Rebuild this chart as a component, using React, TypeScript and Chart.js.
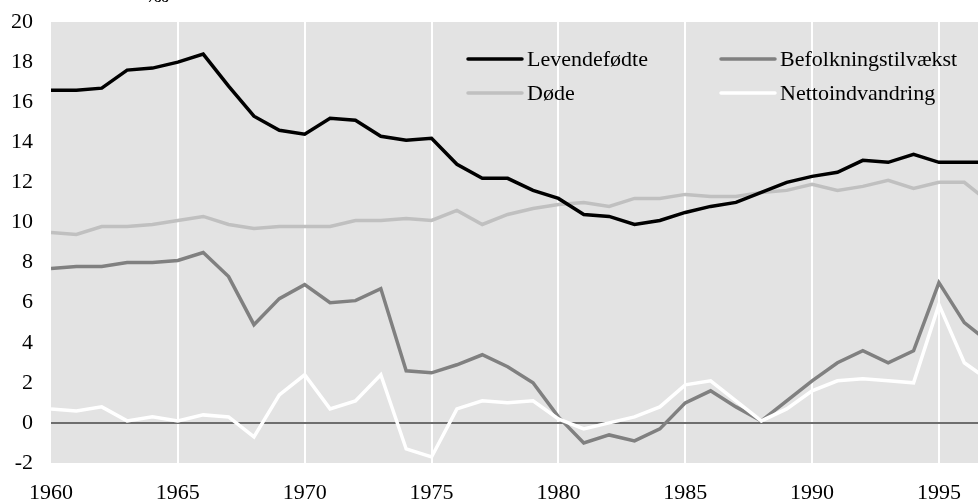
import React, { useEffect, useRef } from "react";
import { Chart, registerables } from "chart.js";

Chart.register(...registerables);

const years = [
  1960, 1961, 1962, 1963, 1964, 1965, 1966, 1967, 1968, 1969,
  1970, 1971, 1972, 1973, 1974, 1975, 1976, 1977, 1978, 1979,
  1980, 1981, 1982, 1983, 1984, 1985, 1986, 1987, 1988, 1989,
  1990, 1991, 1992, 1993, 1994, 1995, 1996, 1997,
];

const levendefodte = [
  16.6, 16.6, 16.7, 17.6, 17.7, 18.0, 18.4, 16.8, 15.3, 14.6,
  14.4, 15.2, 15.1, 14.3, 14.1, 14.2, 12.9, 12.2, 12.2, 11.6,
  11.2, 10.4, 10.3, 9.9, 10.1, 10.5, 10.8, 11.0, 11.5, 12.0,
  12.3, 12.5, 13.1, 13.0, 13.4, 13.0, 13.0, 13.0,
];

const dode = [
  9.5, 9.4, 9.8, 9.8, 9.9, 10.1, 10.3, 9.9, 9.7, 9.8,
  9.8, 9.8, 10.1, 10.1, 10.2, 10.1, 10.6, 9.9, 10.4, 10.7,
  10.9, 11.0, 10.8, 11.2, 11.2, 11.4, 11.3, 11.3, 11.5, 11.6,
  11.9, 11.6, 11.8, 12.1, 11.7, 12.0, 12.0, 11.0,
];

const befolkningstilvaekst = [
  7.7, 7.8, 7.8, 8.0, 8.0, 8.1, 8.5, 7.3, 4.9, 6.2,
  6.9, 6.0, 6.1, 6.7, 2.6, 2.5, 2.9, 3.4, 2.8, 2.0,
  0.3, -1.0, -0.6, -0.9, -0.3, 1.0, 1.6, 0.8, 0.1, 1.1,
  2.1, 3.0, 3.6, 3.0, 3.6, 7.0, 5.0, 4.0,
];

const nettoindvandring = [
  0.7, 0.6, 0.8, 0.1, 0.3, 0.1, 0.4, 0.3, -0.7, 1.4,
  2.4, 0.7, 1.1, 2.4, -1.3, -1.7, 0.7, 1.1, 1.0, 1.1,
  0.2, -0.3, 0.0, 0.3, 0.8, 1.9, 2.1, 1.1, 0.1, 0.7,
  1.6, 2.1, 2.2, 2.1, 2.0, 5.9, 3.0, 2.1,
];

const seriesNames = ["Levendefødte", "Døde", "Befolkningstilvækst", "Nettoindvandring"];
const seriesColors = ["#000000", "#c0c0c0", "#808080", "#ffffff"];
const unitLabel = "‰";

const FONT = '"Liberation Serif", "Times New Roman", serif';

const toPoints = (vals: number[]) => vals.map((v, i) => ({ x: years[i], y: v }));

export default function App() {
  const ref = useRef<HTMLCanvasElement | null>(null);

  useEffect(() => {
    document.body.style.margin = "0";
    const canvas = ref.current;
    if (!canvas) return;

    const bgPlugin = {
      id: "plotBg",
      beforeDraw(chart: any) {
        const { ctx, chartArea } = chart;
        ctx.save();
        ctx.fillStyle = "#e3e3e3";
        ctx.fillRect(chartArea.left, chartArea.top, chartArea.right - chartArea.left, chartArea.bottom - chartArea.top);
        ctx.restore();
      },
    };

    const legendPlugin = {
      id: "customLegend",
      afterDatasetsDraw(chart: any) {
        const { ctx } = chart;
        const entries = [
          { name: seriesNames[0], color: seriesColors[0], x: 468, y: 59 },
          { name: seriesNames[2], color: seriesColors[2], x: 721, y: 59 },
          { name: seriesNames[1], color: seriesColors[1], x: 468, y: 93 },
          { name: seriesNames[3], color: seriesColors[3], x: 721, y: 93 },
        ];
        ctx.save();
        ctx.font = `22px ${FONT}`;
        ctx.textBaseline = "middle";
        ctx.textAlign = "left";
        entries.forEach((e) => {
          ctx.strokeStyle = e.color;
          ctx.lineWidth = 3.5;
          ctx.lineCap = "round";
          ctx.beginPath();
          ctx.moveTo(e.x, e.y);
          ctx.lineTo(e.x + 54, e.y);
          ctx.stroke();
          ctx.fillStyle = "#000";
          ctx.fillText(e.name, e.x + 59, e.y + 1);
        });
        ctx.fillStyle = "#000";
        ctx.textAlign = "center";
        ctx.textBaseline = "alphabetic";
        ctx.fillText(unitLabel, 158, 2);
        ctx.restore();
      },
    };

    const lineStyle = (i: number) => ({
      label: seriesNames[i],
      borderColor: seriesColors[i],
      backgroundColor: seriesColors[i],
      borderWidth: 3.5,
      pointRadius: 0,
      tension: 0,
      fill: false,
    });

    const chart = new Chart(canvas, {
      type: "line",
      data: {
        datasets: [
          { ...lineStyle(0), data: toPoints(levendefodte), order: 0 },
          { ...lineStyle(3), data: toPoints(nettoindvandring), order: 1 },
          { ...lineStyle(2), data: toPoints(befolkningstilvaekst), order: 2 },
          { ...lineStyle(1), data: toPoints(dode), order: 3 },
        ],
      },
      options: {
        animation: false,
        responsive: false,
        layout: { padding: { top: 22, right: 0, left: 0, bottom: 0 } },
        plugins: { legend: { display: false }, tooltip: { enabled: false } },
        scales: {
          x: {
            type: "linear",
            min: 1960,
            max: 1996.54,
            border: { display: false },
            grid: {
              color: (c: any) => (c.tick && c.tick.value > 1960 ? "#ffffff" : "transparent"),
              lineWidth: 2,
              drawTicks: false,
            },
            ticks: {
              stepSize: 5,
              includeBounds: false,
              padding: 17,
              color: "#000",
              font: { family: FONT, size: 22 },
              maxRotation: 0,
              callback: (v: any) => String(v),
            },
            afterFit(scale: any) {
              scale.height = 38;
              scale.paddingLeft = 0;
              scale.paddingRight = 0;
            },
          },
          y: {
            min: -2,
            max: 20,
            border: { display: false },
            grid: {
              color: (c: any) => (c.tick && c.tick.value === 0 ? "#6e6e6e" : "transparent"),
              lineWidth: 2,
              drawTicks: false,
            },
            ticks: {
              stepSize: 2,
              padding: 18,
              color: "#000",
              font: { family: FONT, size: 22 },
            },
            afterFit(scale: any) {
              scale.width = 51;
              scale.paddingTop = 0;
              scale.paddingBottom = 0;
            },
          },
        },
      },
      plugins: [bgPlugin, legendPlugin],
    } as any);

    return () => chart.destroy();
  }, []);

  return (
    <div style={{ width: 978, height: 501 }}>
      <canvas ref={ref} width={978} height={501} style={{ display: "block" }} />
    </div>
  );
}
